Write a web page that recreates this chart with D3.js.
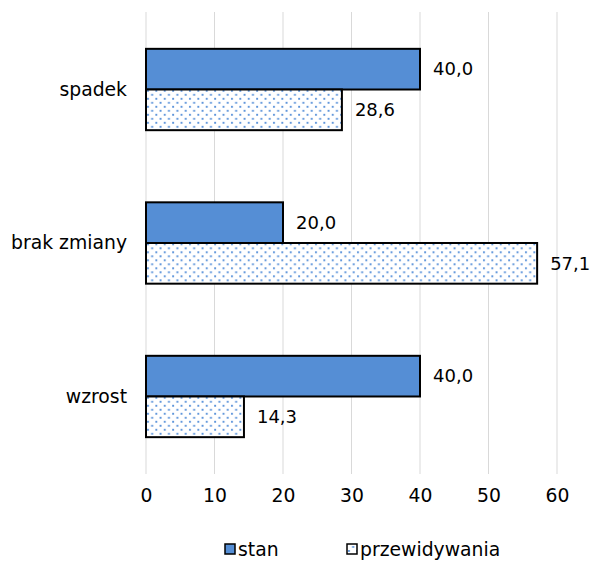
<!DOCTYPE html>
<html>
<head>
<meta charset="utf-8">
<script src="https://cdn.jsdelivr.net/npm/d3@7"></script>
<style>
  html, body { margin: 0; padding: 0; background: #fff; }
  svg { display: block; font-family: "DejaVu Sans", Verdana, sans-serif; }
</style>
</head>
<body>
<svg id="chart" width="592" height="562"></svg>
<script>
// Categories (top to bottom) and the two series
const categories = ["spadek", "brak zmiany", "wzrost"];
const seriesNames = ["stan", "przewidywania"];
const stanValues = [40.0, 20.0, 40.0];
const przewidywaniaValues = [28.6, 57.1, 14.3];
const xTicks = [0, 10, 20, 30, 40, 50, 60];

const svg = d3.select("#chart");
const W = 592, H = 562;
const margin = { top: 12, right: 35, bottom: 88, left: 146 };
const plotW = W - margin.left - margin.right;
const plotH = H - margin.top - margin.bottom;

const blue = "#558ed5";
const fontSize = 18.8;
const valueFontSize = 18;

// Dotted fill for the forecast series
const defs = svg.append("defs");
const pat = defs.append("pattern")
  .attr("id", "dots")
  .attr("patternUnits", "userSpaceOnUse")
  .attr("width", 8.4).attr("height", 8);
pat.append("rect").attr("width", 8.4).attr("height", 8).attr("fill", "#fff");
pat.append("rect").attr("x", 1).attr("y", 1).attr("width", 1.9).attr("height", 1.9).attr("fill", "#5b93da");
pat.append("rect").attr("x", 5.2).attr("y", 5).attr("width", 1.9).attr("height", 1.9).attr("fill", "#5b93da");

const g = svg.append("g").attr("transform", `translate(${margin.left},${margin.top})`);

const x = d3.scaleLinear().domain([0, 60]).range([0, plotW]);
const y = d3.scaleBand().domain(categories).range([0, plotH]).paddingInner(0.47).paddingOuter(0.24);
const sub = d3.scaleBand().domain(seriesNames).range([0, y.bandwidth()]);

// Vertical gridlines
g.append("g").selectAll("line").data(xTicks).join("line")
  .attr("x1", d => x(d)).attr("x2", d => x(d))
  .attr("y1", 0).attr("y2", plotH)
  .attr("stroke", "#d9d9d9").attr("stroke-width", 1);

// X axis tick labels
const xAxis = d3.axisBottom(x).tickValues(xTicks).tickSize(0).tickPadding(15).tickFormat(d3.format("d"));
const xa = g.append("g").attr("transform", `translate(0,${plotH})`).call(xAxis);
xa.select(".domain").remove();
xa.selectAll("text").attr("font-size", fontSize).attr("fill", "#000").attr("font-family", "DejaVu Sans, Verdana, sans-serif");

// Category labels
const yAxis = d3.axisLeft(y).tickSize(0).tickPadding(19);
const ya = g.append("g").call(yAxis);
ya.select(".domain").remove();
ya.selectAll("text").attr("font-size", fontSize).attr("fill", "#000").attr("font-family", "DejaVu Sans, Verdana, sans-serif");

const rows = categories.map((c, i) => ({
  cat: c,
  vals: [
    { s: "stan", v: stanValues[i] },
    { s: "przewidywania", v: przewidywaniaValues[i] }
  ]
}));

const fmt = v => d3.format(".1f")(v).replace(".", ",");

const grp = g.selectAll("g.cat").data(rows).join("g")
  .attr("class", "cat")
  .attr("transform", d => `translate(0,${y(d.cat)})`);

grp.selectAll("rect").data(d => d.vals).join("rect")
  .attr("x", x(0))
  .attr("y", d => sub(d.s))
  .attr("width", d => x(d.v) - x(0))
  .attr("height", sub.bandwidth())
  .attr("fill", d => d.s === "stan" ? blue : "url(#dots)")
  .attr("stroke", "#000").attr("stroke-width", 2);

grp.selectAll("text.val").data(d => d.vals).join("text")
  .attr("class", "val")
  .attr("x", d => x(d.v) + 13)
  .attr("y", d => sub(d.s) + sub.bandwidth() / 2)
  .attr("dy", "0.35em")
  .attr("font-size", valueFontSize)
  .text(d => fmt(d.v));

// Legend
const legend = svg.append("g").attr("transform", `translate(0,549)`);
const items = [
  { name: "stan", x: 225, fill: blue },
  { name: "przewidywania", x: 347, fill: "url(#dots)" }
];
const li = legend.selectAll("g").data(items).join("g")
  .attr("transform", d => `translate(${d.x},0)`);
li.append("rect").attr("x", 0).attr("y", -5).attr("width", 10).attr("height", 10)
  .attr("fill", d => d.fill).attr("stroke", "#000").attr("stroke-width", 1.5);
li.append("text").attr("x", 13).attr("dy", "0.35em").attr("font-size", fontSize).text(d => d.name);
</script>
</body>
</html>
